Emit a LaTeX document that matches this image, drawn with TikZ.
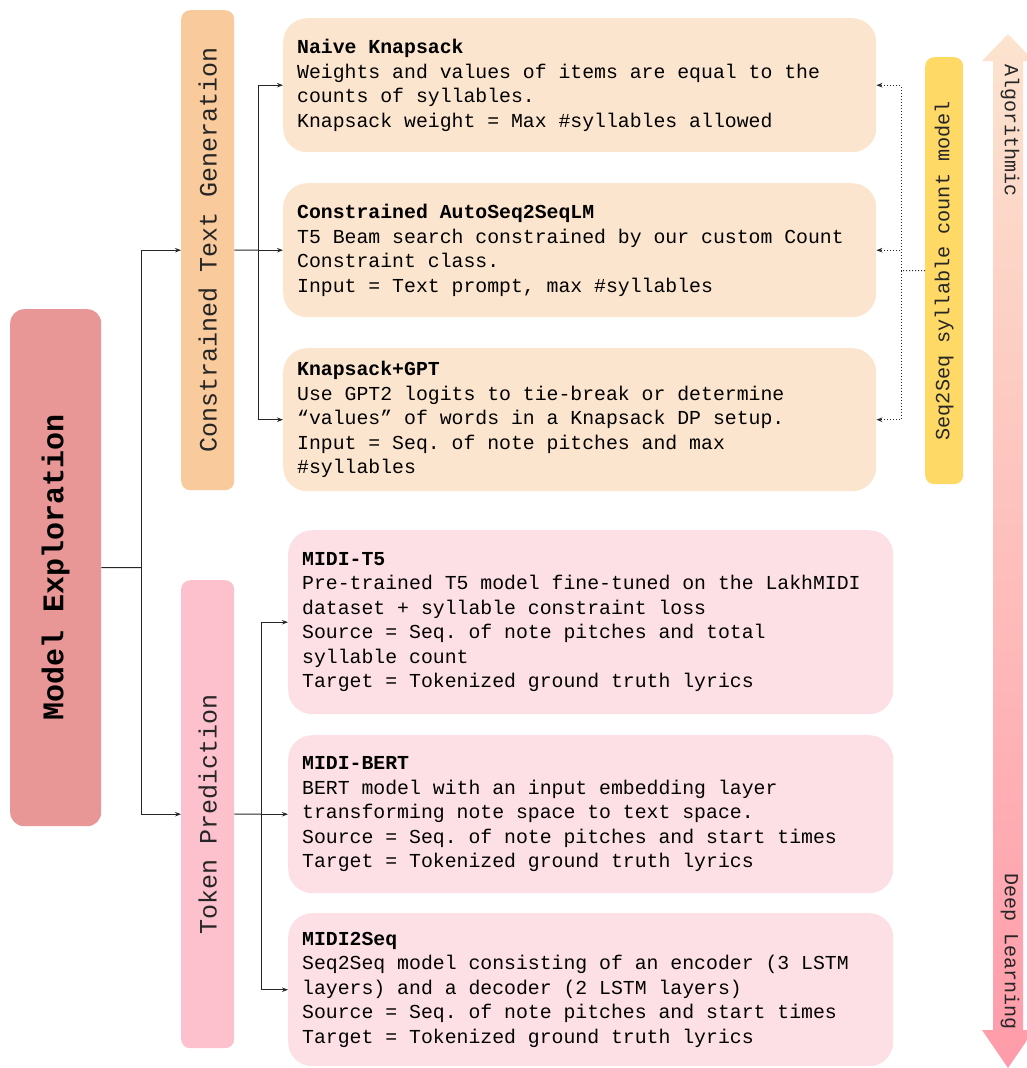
\documentclass[tikz,border=0pt]{standalone}
\usepackage{fontspec}
\setmonofont{Liberation Mono}
\usetikzlibrary{positioning,arrows.meta,shapes}

\definecolor{explorered}{RGB}{233,150,150}
\definecolor{genpeach}{RGB}{249,202,156}
\definecolor{tokpink}{RGB}{253,193,205}
\definecolor{genlight}{RGB}{252,229,206}
\definecolor{toklight}{RGB}{253,224,229}
\definecolor{seqyellow}{RGB}{255,217,102}
\definecolor{gradtop}{RGB}{252,228,207}
\definecolor{gradbot}{RGB}{255,155,170}

% monospaced word gaps, one character wide
\ExplSyntaxOn
\NewDocumentCommand{\mono}{m}
  {
    \tl_set:Nn \l_tmpa_tl {#1}
    \tl_replace_all:Nnn \l_tmpa_tl {\\~} {\\}
    \tl_replace_all:Nnn \l_tmpa_tl {~} {\hskip0.6em\relax}
    \tl_use:N \l_tmpa_tl
  }
\ExplSyntaxOff

\tikzset{
    groupbox/.style={draw=none, rounded corners=9pt, inner sep=0pt, anchor=north west,
        font=\ttfamily\fontsize{25}{30}\selectfont, text=black!85},
    descbox/.style={draw=none, rounded corners=24pt, anchor=north west, align=left,
        inner xsep=14pt, inner ysep=0pt, font=\ttfamily\fontsize{19.8}{24.5}\selectfont},
    link/.style={draw=black!85, line width=1pt},
    arrow/.style={link, -{Stealth[length=6pt,width=4.5pt]}},
    dotlink/.style={draw=black!85, line width=1pt, dotted},
    dotarrow/.style={dotlink, -{Stealth[length=6pt,width=4.5pt]}}
}

\begin{document}
\begin{tikzpicture}[x=1pt,y=-1pt]
    \useasboundingbox (0,0) rectangle (1027,1068);

    % left column
    \node[groupbox, fill=explorered, rounded corners=14pt, minimum width=91pt, minimum height=517pt,
        font=\ttfamily\bfseries\fontsize{30}{36}\selectfont, text=black]
        (explore) at (10,309) {\rotatebox{90}{\mono{Model Exploration}}};

    \node[groupbox, fill=genpeach, minimum width=53pt, minimum height=480pt]
        (textgen) at (181,10) {\rotatebox{90}{\mono{Constrained Text Generation}}};
    \node[groupbox, fill=tokpink, minimum width=53pt, minimum height=468pt]
        (tokpred) at (181,580) {\rotatebox{90}{\mono{Token Prediction}}};

    % text generation models
    \node[descbox, fill=genlight, text width=565pt, minimum height=134pt] (naive) at (283,18)
        {\mono{\textbf{\mono{Naive Knapsack}}\\
         Weights and values of items are equal to the\\
         counts of syllables.\\
         Knapsack weight = Max \#syllables allowed}};
    \node[descbox, fill=genlight, text width=565pt, minimum height=134pt] (autolm) at (283,183)
        {\mono{\textbf{\mono{Constrained AutoSeq2SeqLM}}\\
         T5 Beam search constrained by our custom Count\\
         Constraint class.\\
         Input = Text prompt, max \#syllables}};
    \node[descbox, fill=genlight, text width=565pt, minimum height=143pt] (kgpt) at (283,348)
        {\mono{\textbf{Knapsack+GPT}\\
         Use GPT2 logits to tie-break or determine\\
         “values” of words in a Knapsack DP setup.\\
         Input = Seq. of note pitches and max\\
         \#syllables}};

    % token prediction models
    \node[descbox, fill=toklight, text width=577pt, minimum height=184pt] (midit5) at (288,530)
        {\mono{\textbf{MIDI-T5}\\
         Pre-trained T5 model fine-tuned on the LakhMIDI\\
         dataset + syllable constraint loss\\
         Source = Seq. of note pitches and total\\
         syllable count\\
         Target = Tokenized ground truth lyrics}};
    \node[descbox, fill=toklight, text width=577pt, minimum height=158pt] (midibert) at (288,735)
        {\mono{\textbf{MIDI-BERT}\\
         BERT model with an input embedding layer\\
         transforming note space to text space.\\
         Source = Seq. of note pitches and start times\\
         Target = Tokenized ground truth lyrics}};
    \node[descbox, fill=toklight, text width=577pt, minimum height=153pt] (midiseq) at (288,913)
        {\mono{\textbf{MIDI2Seq}\\
         Seq2Seq model consisting of an encoder (3 LSTM\\
         layers) and a decoder (2 LSTM layers)\\
         Source = Seq. of note pitches and start times\\
         Target = Tokenized ground truth lyrics}};

    % syllable counter
    \node[groupbox, fill=seqyellow, minimum width=38pt, minimum height=427pt,
        font=\ttfamily\fontsize{20.2}{24}\selectfont]
        (seqcount) at (925,57) {\rotatebox{90}{\mono{Seq2Seq syllable count model}}};

    % tree connectors
    \coordinate (rootsplit) at (141,567.5);
    \coordinate (gensplit) at (258,250);
    \coordinate (toksplit) at (261,814);
    \coordinate (seqsplit) at (901,270.5);

    \draw[link] (explore.east) -- (rootsplit);
    \draw[arrow] (rootsplit) |- (textgen.west);
    \draw[arrow] (rootsplit) |- (tokpred.west);

    \draw[link] (textgen.east) -- (gensplit);
    \draw[arrow] (gensplit) |- (naive.west);
    \draw[arrow] (gensplit) |- (autolm.west);
    \draw[arrow] (gensplit) |- (kgpt.west);

    \draw[link] (tokpred.east) -- (toksplit);
    \draw[arrow] (toksplit) |- (midit5.west);
    \draw[arrow] (toksplit) |- (midibert.west);
    \draw[arrow] (toksplit) |- (midiseq.west);

    \draw[dotlink] (seqcount.west) -- (seqsplit);
    \draw[dotarrow] (seqsplit) |- (naive.east);
    \draw[dotarrow] (seqsplit) |- (autolm.east);
    \draw[dotarrow] (seqsplit) |- (kgpt.east);

    % algorithmic / deep learning scale
    \shade[top color=gradtop, bottom color=gradbot]
        (1008,34) -- (1034,61) -- (1023,61) -- (1023,1030) -- (1034,1030) -- (1008,1068)
        -- (982,1030) -- (993,1030) -- (993,61) -- (982,61) -- cycle;
    \node[rotate=-90, font=\ttfamily\fontsize{20}{24}\selectfont, text=black!85] (algo) at (1010,131) {Algorithmic};
    \node[rotate=-90, font=\ttfamily\fontsize{20}{24}\selectfont, text=black!85] (deep) at (1010,952) {\mono{Deep Learning}};
\end{tikzpicture}
\end{document}
